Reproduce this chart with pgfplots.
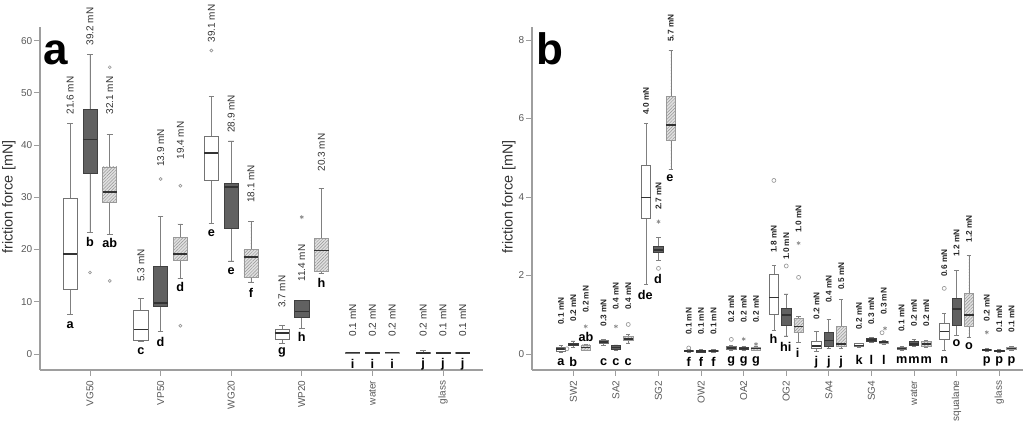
\documentclass[border=0pt]{standalone}
\usepackage{pgfplots}
\pgfplotsset{compat=1.18}
\usepgfplotslibrary{statistics}
\usetikzlibrary{patterns,patterns.meta}
\usepackage{fontspec}
\setmainfont{Liberation Sans}

\definecolor{axgray}{gray}{0.62}
\definecolor{tickgray}{gray}{0.35}
\definecolor{darkfill}{gray}{0.38}
\definecolor{hatchfill}{gray}{0.88}

% style, position, lower whisker, lower quartile, median, upper quartile, upper whisker
\newcommand{\bx}[7]{\addplot[#1, boxplot prepared={draw position=#2, lower whisker=#3, lower quartile=#4, median=#5, upper quartile=#6, upper whisker=#7}] coordinates {};}
% hatched box: light fill, then hatch pattern on top (same numbers)
\newcommand{\hbx}[6]{\bx{hb}{#1}{#2}{#3}{#4}{#5}{#6}\bx{hbp}{#1}{#2}{#3}{#4}{#5}{#6}}

\pgfplotsset{
  wb/.style={draw=black!55, fill=white, line width=0.5pt},
  db/.style={draw=black!75, fill=darkfill, line width=0.5pt},
  hb/.style={draw=black!40, fill=hatchfill, line width=0.5pt},
  hbp/.style={draw=black!40, pattern={Lines[angle=45, distance=1.7pt, line width=0.35pt]}, pattern color=black!42, line width=0.5pt},
  outc/.style={only marks, mark=o, mark size=1.1pt, color=black!40, mark options={line width=0.5pt}},
  outs/.style={only marks, mark=asterisk, mark size=1.5pt, color=black!45, mark options={line width=0.5pt}},
  common/.style={
    scale only axis, anchor=south west,
    axis lines*=left, axis line style={axgray, line width=0.8pt},
    tick align=outside, major tick length=4.5pt, tick style={axgray, line width=0.6pt},
    x tick label style={rotate=90, anchor=east, font=\fontsize{7.5}{9}\selectfont, text=tickgray},
    y tick label style={font=\fontsize{7.5}{9}\selectfont, text=tickgray, xshift=2.2pt},
    /pgf/number format/assume math mode=true,
    clip=false,
    boxplot/draw direction=y,
    boxplot/every median/.style={line width=1.1pt, draw=black!80},
    boxplot/every whisker/.style={draw=black!50},
  },
}
\tikzset{
  vla/.style={rotate=90, anchor=west, inner sep=0pt, font=\fontsize{7.5}{9}\selectfont, text=black!80},
  vlb/.style={rotate=90, anchor=west, inner sep=0pt, font=\fontsize{6.2}{7}\selectfont\bfseries, text=black!85},
  lett/.style={inner sep=0pt, font=\fontsize{9.5}{11}\selectfont\bfseries, text=black},
}

\begin{document}
\begin{tikzpicture}
\useasboundingbox (0,0) rectangle (768pt,318pt);

%================ panel a
\begin{axis}[common,
  at={(30pt,40.5pt)}, width=332.25pt, height=257.25pt,
  xmin=0.292, xmax=6.567, ymin=-3.07, ymax=62.6,
  xtick={1,2,3,4,5,6}, xticklabels={VG50,VP50,WG20,WP20,water,glass},
  ytick={0,10,20,30,40,50,60},
  boxplot/box extend=0.2, boxplot/whisker extend=0.08,
]
% VG50
\bx{wb}{0.72}{7.5}{12.4}{19.1}{29.8}{44.2}
\bx{db}{1.00}{23.3}{34.6}{41.1}{46.8}{57.4}
\hbx{1.28}{22.9}{29.0}{31.0}{35.8}{42.1}
% VP50
\bx{wb}{1.72}{2.4}{2.7}{4.7}{8.3}{10.7}
\bx{db}{2.00}{4.3}{9.2}{9.8}{16.8}{26.4}
\hbx{2.28}{14.5}{17.9}{19.1}{22.3}{24.9}
% WG20
\bx{wb}{2.72}{25.0}{33.3}{38.5}{41.6}{49.4}
\bx{db}{3.00}{17.8}{24.1}{32.0}{32.7}{40.8}
\hbx{3.28}{13.8}{14.7}{18.6}{20.0}{25.3}
% WP20
\bx{wb}{3.72}{2.0}{2.8}{4.0}{4.7}{5.4}
\bx{db}{4.00}{4.9}{7.0}{8.1}{10.2}{10.2}
\hbx{4.28}{15.4}{15.8}{19.8}{22.1}{31.7}
% water
\bx{wb}{4.72}{0.15}{0.2}{0.25}{0.3}{0.35}
\bx{db}{5.00}{0.15}{0.2}{0.25}{0.3}{0.35}
\hbx{5.28}{0.15}{0.2}{0.25}{0.3}{0.35}
% glass
\bx{wb}{5.72}{0.1}{0.15}{0.2}{0.25}{0.6}
\bx{db}{6.00}{0.1}{0.15}{0.2}{0.25}{0.3}
\hbx{6.28}{0.1}{0.15}{0.2}{0.25}{0.3}
% outliers
\addplot[outc] coordinates {(1.0,15.6) (1.28,54.9) (1.28,14.0) (2.0,33.5) (2.28,32.2) (2.28,5.4) (2.72,58.1)};
\addplot[outs] coordinates {(4.0,26.2)};
% letters
\node[lett] at (axis cs:0.72,5.55) {a};
\node[lett] at (axis cs:1.00,21.4) {b};
\node[lett] at (axis cs:1.28,21.3) {ab};
\node[lett] at (axis cs:1.72,0.57) {c};
\node[lett] at (axis cs:2.00,2.3) {d};
\node[lett] at (axis cs:2.28,12.8) {d};
\node[lett] at (axis cs:2.72,23.2) {e};
\node[lett] at (axis cs:3.00,15.9) {e};
\node[lett] at (axis cs:3.28,11.7) {f};
\node[lett] at (axis cs:3.72,0.2) {g};
\node[lett] at (axis cs:4.00,3.3) {h};
\node[lett] at (axis cs:4.28,13.6) {h};
\node[lett] at (axis cs:4.72,-1.9) {i};
\node[lett] at (axis cs:5.00,-1.9) {i};
\node[lett] at (axis cs:5.28,-1.9) {i};
\node[lett] at (axis cs:5.72,-1.9) {j};
\node[lett] at (axis cs:6.00,-1.9) {j};
\node[lett] at (axis cs:6.28,-1.9) {j};
% mean values
\node[vla] at (axis cs:0.72,45.8) {21.6 mN};
\node[vla] at (axis cs:1.00,59.0) {39.2 mN};
\node[vla] at (axis cs:1.28,45.8) {32.1 mN};
\node[vla] at (axis cs:1.72,13.8) {5.3 mN};
\node[vla] at (axis cs:2.00,35.8) {13.9 mN};
\node[vla] at (axis cs:2.28,37.2) {19.4 mN};
\node[vla] at (axis cs:2.72,59.6) {39.1 mN};
\node[vla] at (axis cs:3.00,42.3) {28.9 mN};
\node[vla] at (axis cs:3.28,28.9) {18.1 mN};
\node[vla] at (axis cs:3.72,8.8) {3.7 mN};
\node[vla] at (axis cs:4.00,13.8) {11.4 mN};
\node[vla] at (axis cs:4.28,34.9) {20.3 mN};
\node[vla] at (axis cs:4.72,3.3) {0.1 mN};
\node[vla] at (axis cs:5.00,3.3) {0.2 mN};
\node[vla] at (axis cs:5.28,3.3) {0.2 mN};
\node[vla] at (axis cs:5.72,3.3) {0.2 mN};
\node[vla] at (axis cs:6.00,3.3) {0.1 mN};
\node[vla] at (axis cs:6.28,3.3) {0.1 mN};
\end{axis}

%================ panel b
\begin{axis}[common,
  at={(399pt,40.5pt)}, width=368.25pt, height=257.25pt,
  xmin=0.03, xmax=11.56, ymin=-0.41, ymax=8.33,
  xtick={1,2,3,4,5,6,7,8,9,10,11},
  xticklabels={SW2,SA2,SG2,OW2,OA2,OG2,SA4,SG4,water,squalane,glass},
  ytick={0,2,4,6,8},
  boxplot/box extend=0.22, boxplot/whisker extend=0.1,
]
% SW2
\bx{wb}{0.71}{0.03}{0.07}{0.12}{0.17}{0.22}
\bx{db}{1.00}{0.17}{0.21}{0.24}{0.26}{0.33}
\hbx{1.29}{0.08}{0.10}{0.17}{0.23}{0.25}
% SA2
\bx{wb}{1.71}{0.22}{0.26}{0.30}{0.34}{0.37}
\bx{db}{2.00}{0.10}{0.12}{0.16}{0.21}{0.23}
\hbx{2.29}{0.28}{0.34}{0.38}{0.44}{0.50}
% SG2
\bx{wb}{2.71}{1.78}{3.46}{3.98}{4.80}{5.88}
\bx{db}{3.00}{2.38}{2.59}{2.65}{2.75}{2.96}
\hbx{3.29}{4.71}{5.43}{5.83}{6.57}{7.73}
% OW2
\bx{wb}{3.71}{0.04}{0.06}{0.08}{0.10}{0.12}
\bx{db}{4.00}{0.04}{0.05}{0.07}{0.09}{0.11}
\hbx{4.29}{0.05}{0.06}{0.08}{0.09}{0.11}
% OA2
\bx{wb}{4.71}{0.08}{0.11}{0.15}{0.19}{0.22}
\bx{db}{5.00}{0.08}{0.11}{0.14}{0.16}{0.20}
\hbx{5.29}{0.08}{0.10}{0.14}{0.16}{0.19}
% OG2
\bx{wb}{5.71}{0.59}{1.02}{1.44}{2.02}{2.25}
\bx{db}{6.00}{0.46}{0.74}{0.99}{1.17}{1.53}
\hbx{6.29}{0.30}{0.55}{0.70}{0.91}{0.95}
% SA4
\bx{wb}{6.71}{0.06}{0.13}{0.20}{0.31}{0.57}
\bx{db}{7.00}{0.14}{0.19}{0.34}{0.55}{0.88}
\hbx{7.29}{0.14}{0.19}{0.25}{0.71}{1.38}
% SG4
\bx{wb}{7.71}{0.17}{0.19}{0.22}{0.26}{0.28}
\bx{db}{8.00}{0.29}{0.32}{0.36}{0.39}{0.42}
\hbx{8.29}{0.25}{0.27}{0.30}{0.32}{0.34}
% water
\bx{wb}{8.71}{0.09}{0.11}{0.14}{0.16}{0.19}
\bx{db}{9.00}{0.19}{0.22}{0.25}{0.33}{0.37}
\hbx{9.29}{0.18}{0.20}{0.25}{0.31}{0.35}
% squalane
\bx{wb}{9.71}{0.08}{0.36}{0.57}{0.78}{1.04}
\bx{db}{10.00}{0.48}{0.74}{1.15}{1.42}{2.12}
\hbx{10.29}{0.42}{0.70}{0.99}{1.55}{2.50}
% glass
\bx{wb}{10.71}{0.06}{0.08}{0.10}{0.12}{0.14}
\bx{db}{11.00}{0.05}{0.06}{0.08}{0.10}{0.12}
\hbx{11.29}{0.09}{0.11}{0.14}{0.17}{0.19}
% outliers
\addplot[outc, mark size=1.5pt] coordinates {(0.85,0.13) (2.29,0.75) (3.0,2.18) (3.71,0.15) (4.71,0.37) (5.71,4.42) (6.0,2.24) (6.29,1.95) (8.25,0.54) (9.71,1.67)};
\addplot[outs] coordinates {(1.29,0.70) (2.0,0.70) (3.0,3.37) (5.0,0.38) (5.29,0.25) (6.29,2.82) (8.32,0.65) (10.71,0.55)};
% letters
\node[lett] at (axis cs:0.71,-0.2) {a};
\node[lett] at (axis cs:1.00,-0.2) {b};
\node[lett] at (axis cs:1.30,0.44) {ab};
\node[lett] at (axis cs:1.71,-0.2) {c};
\node[lett] at (axis cs:2.00,-0.2) {c};
\node[lett] at (axis cs:2.29,-0.2) {c};
\node[lett] at (axis cs:2.69,1.50) {de};
\node[lett] at (axis cs:2.99,1.91) {d};
\node[lett] at (axis cs:3.27,4.48) {e};
\node[lett] at (axis cs:3.71,-0.2) {f};
\node[lett] at (axis cs:4.00,-0.2) {f};
\node[lett] at (axis cs:4.29,-0.2) {f};
\node[lett] at (axis cs:4.71,-0.2) {g};
\node[lett] at (axis cs:5.00,-0.2) {g};
\node[lett] at (axis cs:5.29,-0.2) {g};
\node[lett] at (axis cs:5.70,0.38) {h};
\node[lett] at (axis cs:5.99,0.18) {hi};
\node[lett] at (axis cs:6.27,0.03) {i};
\node[lett] at (axis cs:6.71,-0.2) {j};
\node[lett] at (axis cs:7.00,-0.2) {j};
\node[lett] at (axis cs:7.29,-0.2) {j};
\node[lett] at (axis cs:7.71,-0.15) {k};
\node[lett] at (axis cs:8.00,-0.15) {l};
\node[lett] at (axis cs:8.29,-0.15) {l};
\node[lett] at (axis cs:8.71,-0.15) {m};
\node[lett] at (axis cs:9.00,-0.15) {m};
\node[lett] at (axis cs:9.29,-0.15) {m};
\node[lett] at (axis cs:9.71,-0.15) {n};
\node[lett] at (axis cs:10.00,0.27) {o};
\node[lett] at (axis cs:10.29,0.19) {o};
\node[lett] at (axis cs:10.71,-0.2) {p};
\node[lett] at (axis cs:11.00,-0.2) {p};
\node[lett] at (axis cs:11.29,-0.2) {p};
% mean values
\node[vlb] at (axis cs:0.71,0.74) {0.1 mN};
\node[vlb] at (axis cs:1.00,0.82) {0.2 mN};
\node[vlb] at (axis cs:1.29,1.04) {0.2 mN};
\node[vlb] at (axis cs:1.71,0.70) {0.3 mN};
\node[vlb] at (axis cs:2.00,1.12) {0.4 mN};
\node[vlb] at (axis cs:2.29,1.12) {0.4 mN};
\node[vlb] at (axis cs:2.71,6.09) {4.0 mN};
\node[vlb] at (axis cs:3.00,3.67) {2.7 mN};
\node[vlb] at (axis cs:3.29,7.95) {5.7 mN};
\node[vlb] at (axis cs:3.71,0.48) {0.1 mN};
\node[vlb] at (axis cs:4.00,0.48) {0.1 mN};
\node[vlb] at (axis cs:4.29,0.48) {0.1 mN};
\node[vlb] at (axis cs:4.71,0.79) {0.2 mN};
\node[vlb] at (axis cs:5.00,0.79) {0.2 mN};
\node[vlb] at (axis cs:5.29,0.79) {0.2 mN};
\node[vlb] at (axis cs:5.71,2.57) {1.8 mN};
\node[vlb] at (axis cs:6.00,2.39) {1.0 mN};
\node[vlb] at (axis cs:6.29,3.08) {1.0 mN};
\node[vlb] at (axis cs:6.71,0.87) {0.2 mN};
\node[vlb] at (axis cs:7.00,1.30) {0.4 mN};
\node[vlb] at (axis cs:7.29,1.63) {0.5 mN};
\node[vlb] at (axis cs:7.71,0.61) {0.2 mN};
\node[vlb] at (axis cs:8.00,0.74) {0.3 mN};
\node[vlb] at (axis cs:8.29,0.99) {0.3 mN};
\node[vlb] at (axis cs:8.71,0.56) {0.1 mN};
\node[vlb] at (axis cs:9.00,0.69) {0.2 mN};
\node[vlb] at (axis cs:9.29,0.69) {0.2 mN};
\node[vlb] at (axis cs:9.71,1.96) {0.6 mN};
\node[vlb] at (axis cs:10.00,2.47) {1.2 mN};
\node[vlb] at (axis cs:10.29,2.83) {1.2 mN};
\node[vlb] at (axis cs:10.71,0.82) {0.2 mN};
\node[vlb] at (axis cs:11.00,0.54) {0.1 mN};
\node[vlb] at (axis cs:11.29,0.54) {0.1 mN};
\end{axis}

% axis titles and panel letters
\node[rotate=90, font=\fontsize{10.8}{12}\selectfont, text=black!80] at (6.75pt,170.25pt) {friction force [mN]};
\node[rotate=90, font=\fontsize{10.8}{12}\selectfont, text=black!80] at (381.75pt,170.25pt) {friction force [mN]};
\node[font=\fontsize{33}{36}\selectfont\bfseries] at (42pt,278.25pt) {a};
\node[font=\fontsize{33}{36}\selectfont\bfseries] at (412.5pt,281.25pt) {b};
\end{tikzpicture}
\end{document}
